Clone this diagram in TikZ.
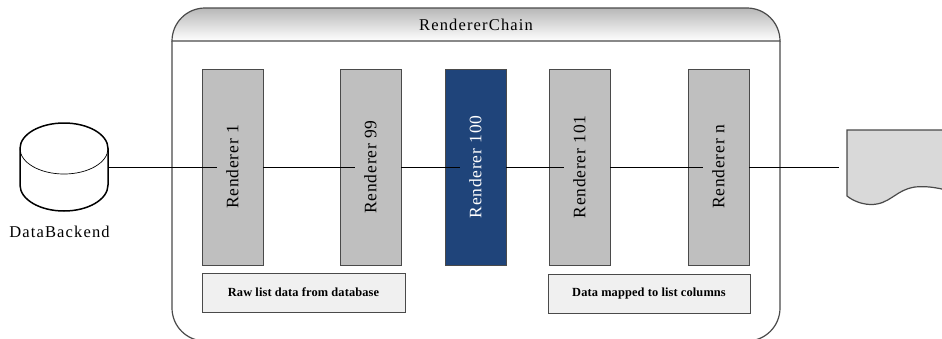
\documentclass[tikz,border=0pt]{standalone}
\usepackage{fontspec}
\setmainfont[LetterSpace=7]{Liberation Serif}
\newfontfamily\tightserif[LetterSpace=1]{Liberation Serif}
\newfontfamily\labelserif[LetterSpace=4.5]{Liberation Serif}
\definecolor{edgegrey}{HTML}{4A4A4A}
\definecolor{navyfill}{HTML}{1F447A}
\tikzset{
  x=1pt,y=-1pt,
  rbox/.style={draw=edgegrey,line width=1pt,fill=#1,minimum width=61pt,minimum height=196pt,inner sep=0pt,outer sep=0pt,anchor=north west},
  rlabel/.style={rotate=90,font=\labelserif\fontsize{17.5}{20}\selectfont,text=#1},
  notebox/.style={draw=edgegrey,line width=1pt,fill=black!6,minimum height=39pt,inner sep=0pt,outer sep=0pt,anchor=north west,font=\tightserif\fontsize{12.4}{14}\selectfont\bfseries},
  link/.style={draw=black,line width=0.8pt},
}
\begin{document}
\begin{tikzpicture}
\useasboundingbox (0,0) rectangle (942,338);
\clip (0,0) rectangle (942,338);
% container
\draw[edgegrey,line width=1.2pt,fill=white,rounded corners=33pt] (172,41) -- (172,341) -- (780,341) -- (780,41);
\draw[edgegrey,line width=1.2pt,top color=black!28,bottom color=white] (172,41) arc[start angle=180,end angle=270,radius=33] -- (747,8) arc[start angle=-90,end angle=0,radius=33] -- cycle;
\node[font=\fontsize{16.5}{18}\selectfont] (chain) at (476,25) {RendererChain};
% renderers
\node[rbox=black!25] (r1) at (202,69) {};
\node[rbox=black!25] (r99) at (340,69) {};
\node[rbox=navyfill] (r100) at (445,69) {};
\node[rbox=black!25] (r101) at (549,69) {};
\node[rbox=black!25] (rn) at (688,69) {};
% stores
\draw[black,line width=1.5pt,fill=white] (20,148.5) arc[start angle=180,end angle=360,x radius=44,y radius=25.5] -- (108,185) arc[start angle=0,end angle=180,x radius=44,y radius=26] -- cycle;
\draw[black,line width=0.7pt] (20,148.5) arc[start angle=180,end angle=0,x radius=44,y radius=25.5];
\coordinate (db) at (108,167);
\node[font=\fontsize{16.5}{18}\selectfont] (dblabel) at (59.5,232) {DataBackend};
\draw[edgegrey,line width=1.2pt,fill=black!15] (847,130) -- (950,130) -- (950,191) .. controls (935,187) and (925,186) .. (915,187) .. controls (895,190) and (890,205) .. (870,204.5) .. controls (860,204) and (852,200) .. (847,196) -- cycle;
\coordinate (doc) at (839,167);
% connectors
\draw[link] (db) -- ([xshift=15pt]r1.west);
\draw[link] (r1.east) -- ([xshift=15pt]r99.west);
\draw[link] (r99.east) -- ([xshift=15pt]r100.west);
\draw[link] (r100.east) -- ([xshift=15pt]r101.west);
\draw[link] (r101.east) -- ([xshift=15pt]rn.west);
\draw[link] (rn.east) -- (doc);
% labels
\node[rlabel=black] (l1) at (r1.center) {Renderer 1};
\node[rlabel=black] (l99) at (r99.center) {Renderer 99};
\node[rlabel=white] (l100) at (r100.center) {Renderer 100};
\node[rlabel=black] (l101) at (r101.center) {Renderer 101};
\node[rlabel=black] (ln) at (rn.center) {Renderer n};
\node[notebox,minimum width=203pt] (raw) at (202,273) {Raw list data from database};
\node[notebox,minimum width=202pt] (mapped) at (548,274) {Data mapped to list columns};
\end{tikzpicture}
\end{document}
